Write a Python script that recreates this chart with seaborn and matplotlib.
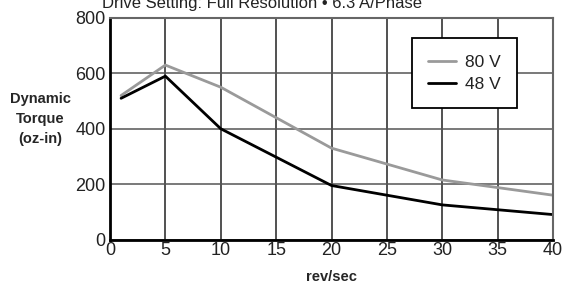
import pandas as pd
import matplotlib
matplotlib.use("Agg")
import matplotlib.pyplot as plt
import seaborn as sns

# Data
speed = [1, 5, 10, 20, 30, 40]
torque_80v = [520, 630, 550, 330, 215, 160]
torque_48v = [510, 590, 400, 195, 125, 90]
series = ["80 V", "48 V"]
colors = {"80 V": "#9a9a9a", "48 V": "#000000"}

df = pd.DataFrame({
    "rev/sec": speed * 2,
    "torque": torque_80v + torque_48v,
    "supply": [series[0]] * len(speed) + [series[1]] * len(speed),
})

sns.set_style("white")
plt.rcParams["font.family"] = ["Liberation Sans", "DejaVu Sans"]

fig = plt.figure(figsize=(5.63, 2.86), dpi=100)
ax = fig.add_axes([110 / 563, 1 - 239.5 / 286, 443 / 563, 221.5 / 286])

sns.lineplot(data=df, x="rev/sec", y="torque", hue="supply", hue_order=series,
             palette=colors, linewidth=2, ax=ax, legend=False)

ax.set_xlim(0, 40)
ax.set_ylim(0, 800)
ax.set_xticks(range(0, 41, 5))
ax.set_yticks(range(0, 801, 200))
ax.grid(True, axis="x", color="#222222", linewidth=1.1)
ax.grid(True, axis="y", color="#555555", linewidth=1.1)
ax.tick_params(axis="both", length=0, labelsize=13, pad=2, colors="#222222")
ax.tick_params(axis="y", pad=3)
for side in ["left", "bottom"]:
    ax.spines[side].set_color("black")
    ax.spines[side].set_linewidth(2)
for side in ["top", "right"]:
    ax.spines[side].set_color("#666666")
    ax.spines[side].set_linewidth(1.5)

ax.set_xlabel("rev/sec", fontsize=10.5, fontweight="bold", labelpad=8)
ax.set_ylabel("")
fig.text(40 / 563, 1 - 119 / 286, "Dynamic\nTorque\n(oz-in)", ha="center", va="center",
         fontsize=10.5, fontweight="bold", linespacing=1.55)

fig.text(262 / 563, 1 - 8 / 286, "Drive Setting: Full Resolution \u2022 6.3 A/Phase",
         ha="center", va="baseline", fontsize=12, color="#222222")

handles = [plt.Line2D([], [], color=colors[s], linewidth=2) for s in series]
leg = ax.legend(handles, series, loc="upper right", bbox_to_anchor=(517 / 563, 1 - 38 / 286),
                bbox_transform=fig.transFigure, fontsize=12.5, frameon=True, fancybox=False,
                framealpha=1, edgecolor="black", handlelength=1.6, handletextpad=0.5,
                borderpad=0.95, labelspacing=0.4, borderaxespad=0)
leg.get_frame().set_linewidth(1.3)
for t in leg.get_texts():
    t.set_color("#222222")

fig.savefig("out.png", dpi=100)
